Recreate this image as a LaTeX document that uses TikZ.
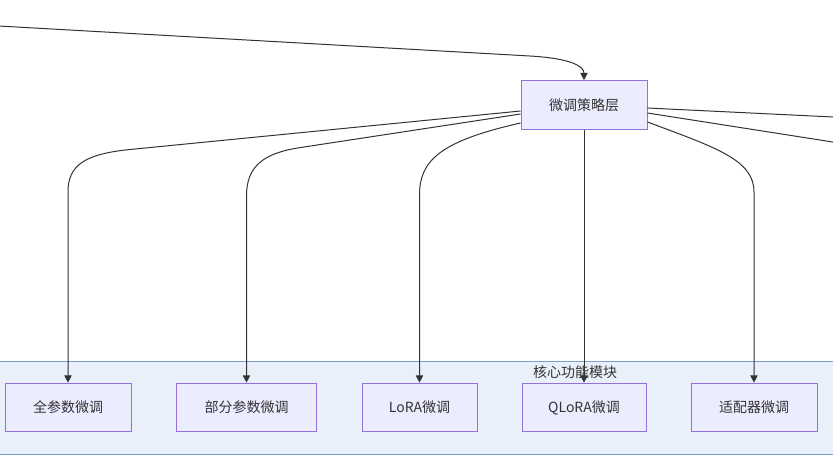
\documentclass[tikz,border=0pt]{standalone}
\usepackage{fontspec}
\setmainfont{Noto Sans CJK SC}
\usetikzlibrary{arrows.meta}
\definecolor{nodefill}{HTML}{ECECFF}
\definecolor{nodeline}{HTML}{9370DB}
\definecolor{grpfill}{HTML}{EAF0FA}
\definecolor{grpline}{HTML}{7A9ED2}
\definecolor{edgecol}{HTML}{333333}
\begin{document}
\begin{tikzpicture}[
    x=0.75pt, y=0.75pt,
    box/.style={rectangle, draw=nodeline, fill=nodefill, line width=0.75pt,
        minimum height=36.5pt, inner sep=0pt, text=edgecol, font=\fontsize{10.5}{12}\selectfont},
    arrow/.style={-{Triangle[length=5.5pt, width=5.5pt]}, line width=0.75pt, edgecol},
    plain/.style={line width=0.75pt, edgecol}
]
    \useasboundingbox (0,0) rectangle (833,-462);
    \clip (0,0) rectangle (833,-462);

    % Group
    \node[draw=grpline, fill=grpfill, line width=0.75pt, minimum width=645pt,
        minimum height=69.75pt, inner sep=0pt] (core) at (416.5,-407.5) {};
    \node[text=edgecol, font=\fontsize{10.5}{12}\selectfont] (corelabel) at (575,-372) {核心功能模块};

    % Nodes
    \node[box, minimum width=94.5pt] (strat) at (584,-105) {微调策略层};
    \node[box, minimum width=94.5pt] (full) at (68,-407.5) {全参数微调};
    \node[box, minimum width=105pt] (part) at (246.5,-407.5) {部分参数微调};
    \node[box, minimum width=86.25pt] (lora) at (419.5,-407.5) {LoRA微调};
    \node[box, minimum width=93pt] (qlora) at (584,-407.5) {QLoRA微调};
    \node[box, minimum width=94.5pt] (adapt) at (754,-407.5) {适配器微调};

    % Off-canvas ends
    \coordinate (src) at (-10,-25.5);
    \coordinate (outA) at (850,-117.8);
    \coordinate (outB) at (850,-144.7);

    % Edges
    \draw[arrow] (src) -- (530,-56) .. controls (570,-58.3) and (584,-66) .. (strat.north);
    \draw[arrow] ([yshift=-4.5pt]strat.west) -- (130,-149.5)
        .. controls (85,-154) and (68,-165) .. (68,-192) -- (full.north);
    \draw[arrow] ([yshift=-6.75pt]strat.west) -- (300,-147.6)
        .. controls (265,-153) and (246.5,-165) .. (246.5,-196) -- (part.north);
    \draw[arrow] ([yshift=-13.5pt]strat.west)
        .. controls (441,-141) and (419.5,-160) .. (419.5,-195) -- (lora.north);
    \draw[arrow] (strat.south) -- (qlora.north);
    \draw[arrow] ([yshift=-12.75pt]strat.east)
        .. controls (717,-148) and (754,-160) .. (754,-192) -- (adapt.north);
    \draw[plain] ([yshift=-2.25pt]strat.east) -- (outA);
    \draw[plain] ([yshift=-6pt]strat.east) -- (outB);
\end{tikzpicture}
\end{document}
